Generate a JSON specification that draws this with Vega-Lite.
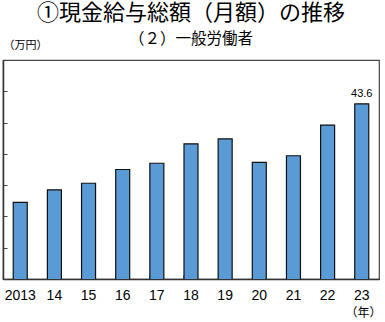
{
  "$schema": "https://vega.github.io/schema/vega-lite/v6.json",
  "width": 376,
  "height": 219,
  "autosize": {"type": "none"},
  "padding": {"left": 3, "top": 60, "right": 6, "bottom": 43},
  "background": "white",
  "title": {
    "text": "①現金給与総額（月額）の推移",
    "subtitle": "（２）一般労働者　　",
    "anchor": "middle",
    "frame": "group",
    "font": "Noto Sans CJK JP",
    "fontSize": 22,
    "fontWeight": "normal",
    "color": "#000000",
    "subtitleFont": "Noto Sans CJK JP",
    "subtitleFontSize": 15.5,
    "subtitleColor": "#000000",
    "subtitlePadding": 7,
    "offset": -9
  },
  "data": {
    "values": [
      {"year": "2013", "value": 40.45, "label": ""},
      {"year": "14", "value": 40.85, "label": ""},
      {"year": "15", "value": 41.06, "label": ""},
      {"year": "16", "value": 41.5, "label": ""},
      {"year": "17", "value": 41.7, "label": ""},
      {"year": "18", "value": 42.32, "label": ""},
      {"year": "19", "value": 42.48, "label": ""},
      {"year": "20", "value": 41.73, "label": ""},
      {"year": "21", "value": 41.94, "label": ""},
      {"year": "22", "value": 42.92, "label": ""},
      {"year": "23", "value": 43.6, "label": "43.6"}
    ]
  },
  "encoding": {
    "x": {
      "field": "year",
      "type": "nominal",
      "sort": null,
      "scale": {"paddingInner": 0.59, "paddingOuter": 0.3},
      "axis": {
        "title": "（年）",
        "titleFont": "Noto Sans CJK JP",
        "titleFontSize": 12,
        "titleFontWeight": "normal",
        "titleColor": "#000000",
        "titleAnchor": "end",
        "titleAlign": "right",
        "titleBaseline": "middle",
        "titleX": 378,
        "titleY": 33,
        "labelAngle": 0,
        "labelFont": "Liberation Sans",
        "labelFontSize": 14,
        "labelColor": "#000000",
        "labelPadding": 20,
        "labelBaseline": "middle",
        "bandPosition": 0,
        "ticks": true,
        "tickSize": -4,
        "tickColor": "#888888",
        "tickWidth": 1,
        "domainColor": "#333333",
        "domainWidth": 1.5,
        "grid": false
      }
    },
    "y": {
      "field": "value",
      "type": "quantitative",
      "scale": {"domain": [38, 45], "zero": false, "nice": false},
      "axis": {
        "title": "（万円）",
        "titleAngle": 0,
        "titleFont": "Noto Sans CJK JP",
        "titleFontSize": 11,
        "titleFontWeight": "normal",
        "titleColor": "#000000",
        "titleAlign": "left",
        "titleBaseline": "middle",
        "titleX": 0,
        "titleY": -15,
        "values": [38, 39, 40, 41, 42, 43, 44, 45],
        "labels": false,
        "ticks": true,
        "tickSize": -4,
        "tickColor": "#444444",
        "domainColor": "#333333",
        "domainWidth": 1.5,
        "grid": false
      }
    }
  },
  "layer": [
    {
      "mark": {"type": "bar", "clip": true, "color": "#5B9BD5", "stroke": "#111111", "strokeWidth": 1.2}
    },
    {
      "mark": {"type": "text", "baseline": "bottom", "dy": -5, "font": "Liberation Sans", "fontSize": 11, "color": "#000000"},
      "encoding": {"text": {"field": "label"}}
    }
  ],
  "config": {
    "view": {"stroke": "#444444", "strokeWidth": 1.2}
  }
}
